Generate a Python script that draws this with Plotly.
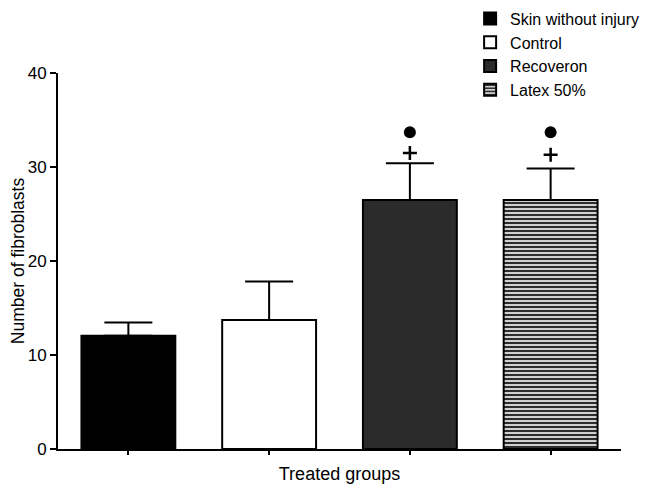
import plotly.graph_objects as go

groups = ["Skin without injury", "Control", "Recoveron", "Latex 50%"]
means = [12.05, 13.72, 26.5, 26.5]
sem = [1.4, 4.1, 3.9, 3.35]
plus_y = [None, None, 31.5, 31.3]
dot_y = [None, None, 33.7, 33.7]
yticks = [0, 10, 20, 30, 40]

FONT = "Liberation Sans, Arial, sans-serif"
fills = ["#000000", "#ffffff", "#2b2b2b", "#c8c8c8"]

fig = go.Figure()
for i, g in enumerate(groups):
    marker = dict(color=fills[i], line=dict(color="black", width=2))
    if i == 3:
        marker["pattern"] = dict(shape="-", fgcolor="#1a1a1a", bgcolor="#cfcfcf",
                                 size=4, solidity=0.45, fillmode="replace")
    fig.add_trace(go.Bar(
        x=[i], y=[means[i]], name=g, width=0.667, marker=marker,
        error_y=dict(type="data", array=[sem[i]], arrayminus=[0], symmetric=False,
                     color="black", thickness=2, width=24),
    ))

px_ = [i for i in range(4) if plus_y[i] is not None]
fig.add_trace(go.Scatter(
    x=px_, y=[plus_y[i] for i in px_], mode="markers", showlegend=False,
    marker=dict(symbol="cross-thin", size=10, line=dict(color="black", width=2.5)),
    hoverinfo="skip"))
fig.add_trace(go.Scatter(
    x=px_, y=[dot_y[i] for i in px_], mode="markers", showlegend=False,
    marker=dict(symbol="circle", size=12, color="black"),
    hoverinfo="skip"))

fig.update_layout(
    width=652, height=487,
    margin=dict(l=50, r=39, t=65, b=46, autoexpand=False),
    paper_bgcolor="white", plot_bgcolor="white",
    barmode="overlay",
    font=dict(family=FONT, color="black", size=15),
    showlegend=True,
    legend=dict(x=0.732, y=1.19, xanchor="left", yanchor="top",
                font=dict(size=16, family=FONT), tracegroupgap=0,
                bgcolor="rgba(0,0,0,0)", itemclick=False),
    xaxis=dict(range=[-0.5, 3.5], tickvals=[0, 1, 2, 3], showticklabels=False,
               ticks="outside", ticklen=4, tickwidth=2, tickcolor="black",
               showline=True, linecolor="black", linewidth=2, showgrid=False,
               zeroline=False, fixedrange=True, automargin=False,
               title=dict(text="Treated groups", font=dict(size=18), standoff=13)),
    yaxis=dict(range=[0, 40], tickvals=yticks, ticks="outside", ticklen=6,
               tickwidth=2, tickcolor="black", showline=True, linecolor="black",
               linewidth=2, showgrid=False, zeroline=False, automargin=False,
               tickfont=dict(size=17),
               title=dict(text="Number of fibroblasts", font=dict(size=17.5), standoff=10)),
)

fig.write_html("out.html")
